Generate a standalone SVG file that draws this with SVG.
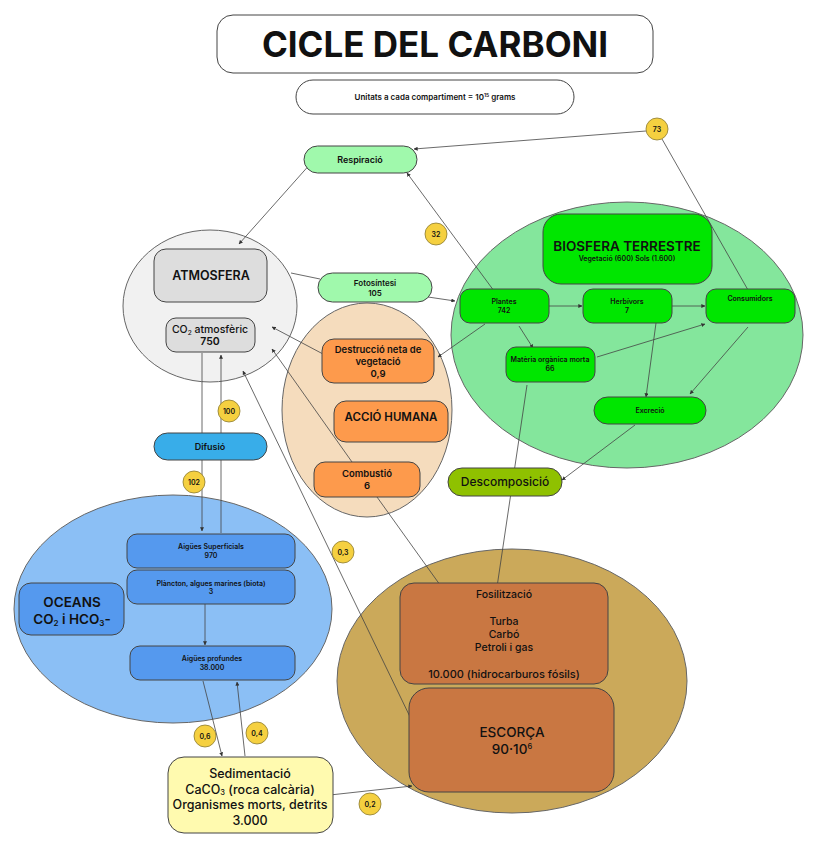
<svg xmlns="http://www.w3.org/2000/svg" width="817" height="848" viewBox="0 0 817 848">
<defs>
<marker id="ah" viewBox="0 0 6 6" refX="5.5" refY="3" markerWidth="4" markerHeight="4" orient="auto" markerUnits="userSpaceOnUse">
<path d="M0,0 L6,3 L0,6 z" fill="#333"/>
</marker>
</defs>
<style>
text{font-family:Inter,"Liberation Sans",Arial,sans-serif;fill:#111;text-anchor:middle;font-weight:500}
.big{stroke:#666;stroke-width:1}
.box{stroke:#444;stroke-width:1}
.ln{stroke:#444;stroke-width:0.8;fill:none}
.arr{stroke:#444;stroke-width:0.8;fill:none;marker-end:url(#ah)}
.num{fill:#f5d040;stroke:#8a7a30;stroke-width:0.8}
.nt{font-size:7px;font-weight:600}
.sm{font-size:7px;font-weight:600}
.s9{font-size:9px;font-weight:600}
.hum{font-size:9.5px;font-weight:600}
</style>

<rect width="817" height="848" fill="#ffffff"/>

<g id="ellipses">
<ellipse id="atm-ellipse" cx="210" cy="306" rx="87" ry="76" fill="#f1f1f1" class="big"/>
<ellipse id="human-ellipse" cx="367" cy="410" rx="85" ry="107" fill="#f5dcbd" class="big"/>
<ellipse id="bio-ellipse" cx="627" cy="335" rx="176" ry="133" fill="#84e69c" class="big"/>
<ellipse id="ocean-ellipse" cx="173" cy="609" rx="159" ry="114" fill="#8bbff5" class="big"/>
<ellipse id="crust-ellipse" cx="512" cy="681" rx="175" ry="132" fill="#cba95a" class="big"/>
</g>

<g id="connectors">
<line class="arr" x1="646" y1="131" x2="414" y2="149"/>
<line class="ln" x1="662" y1="139" x2="748" y2="290"/>
<line class="arr" x1="312" y1="162" x2="239" y2="244"/>
<line class="arr" x1="497" y1="295" x2="407" y2="173"/>
<line class="ln" x1="291" y1="273" x2="320" y2="279"/>
<line class="arr" x1="428" y1="297" x2="455" y2="301"/>
<line class="arr" x1="323" y1="354" x2="272" y2="327"/>
<line class="arr" x1="485" y1="324" x2="438" y2="357"/>
<line class="arr" x1="352" y1="462" x2="272" y2="349"/>
<line class="ln" x1="377" y1="497" x2="463" y2="617"/>
<line class="arr" x1="413" y1="723" x2="243" y2="371"/>
<line class="arr" x1="202" y1="353" x2="202" y2="531"/>
<line class="arr" x1="221" y1="533" x2="221" y2="355"/>
<line class="arr" x1="205" y1="604" x2="205" y2="645"/>
<line class="arr" x1="203" y1="681" x2="222" y2="756"/>
<line class="arr" x1="245" y1="756" x2="237" y2="682"/>
<line class="arr" x1="330" y1="795" x2="412" y2="786"/>
<line class="arr" x1="527" y1="385" x2="497" y2="587"/>
<line class="arr" x1="549" y1="306" x2="582" y2="306"/>
<line class="arr" x1="672" y1="306" x2="705" y2="306"/>
<line class="arr" x1="519" y1="326" x2="533" y2="348"/>
<line class="arr" x1="597" y1="357" x2="705" y2="324"/>
<line class="arr" x1="656" y1="323" x2="646" y2="397"/>
<line class="arr" x1="748" y1="327" x2="690" y2="394"/>
<line class="arr" x1="635" y1="425" x2="562" y2="480"/>
</g>

<g id="title">
<rect x="217" y="15" width="436" height="58" rx="16" fill="#fff" class="box"/>
<text x="435" y="57" style="font-size:35px;font-weight:700">CICLE DEL CARBONI</text>
</g>
<g id="units">
<rect x="296" y="80" width="278" height="34" rx="17" fill="#fff" class="box"/>
<text x="435" y="100" style="font-size:8px;font-weight:600">Unitats a cada compartiment = 10<tspan dy="-3" style="font-size:5px">15</tspan><tspan dy="3"> grams</tspan></text>
</g>

<g id="respiracio">
<rect x="304" y="146" width="113" height="27" rx="13.5" fill="#a0f9ac" class="box"/>
<text x="360" y="163" class="s9">Respiració</text>
</g>

<g id="atmosfera">
<rect x="154" y="249" width="113" height="53" rx="12" fill="#dddddd" class="box"/>
<text x="211" y="280" style="font-size:12.5px;font-weight:600">ATMOSFERA</text>
</g>
<g id="co2-atm">
<rect x="166" y="318" width="89" height="34" rx="10" fill="#dddddd" class="box"/>
<text x="210" y="333" style="font-size:10.5px;font-weight:500">CO<tspan dy="1.5" style="font-size:6.5px">2</tspan><tspan dy="-1.5"> atmosfèric</tspan></text>
<text x="210" y="345" style="font-size:10.5px;font-weight:600">750</text>
</g>

<g id="fotosintesi">
<rect x="318" y="273" width="114" height="29" rx="14.5" fill="#a0f9ac" class="box"/>
<text x="375" y="286" style="font-size:8px;font-weight:600">Fotosíntesi</text>
<text x="375" y="296" style="font-size:8px;font-weight:600">105</text>
</g>

<g id="destruccio">
<rect x="322" y="339" width="112" height="44" rx="12" fill="#fd9a4c" class="box"/>
<text x="378" y="353" class="hum">Destrucció neta de</text>
<text x="378" y="365" class="hum">vegetació</text>
<text x="378" y="377" class="hum">0,9</text>
</g>
<g id="accio-humana">
<rect x="334" y="401" width="114" height="41" rx="12" fill="#fd9a4c" class="box"/>
<text x="391" y="421" style="font-size:11.5px;font-weight:600">ACCIÓ HUMANA</text>
</g>
<g id="combustio">
<rect x="314" y="462" width="106" height="35" rx="11" fill="#fd9a4c" class="box"/>
<text x="367" y="477" class="hum">Combustió</text>
<text x="367" y="489" class="hum">6</text>
</g>

<g id="biosfera">
<rect x="543" y="214" width="169" height="70" rx="18" fill="#00e600" class="box"/>
<text x="627" y="251" style="font-size:13.5px;font-weight:600">BIOSFERA TERRESTRE</text>
<text x="627" y="261" class="sm">Vegetació (600) Sols (1.600)</text>
</g>
<g id="plantes">
<rect x="460" y="289" width="89" height="34" rx="10" fill="#00e600" class="box"/>
<text x="504" y="304" class="sm">Plantes</text>
<text x="504" y="313" class="sm">742</text>
</g>
<g id="herbivors">
<rect x="583" y="289" width="89" height="34" rx="10" fill="#00e600" class="box"/>
<text x="627" y="304" class="sm">Herbívors</text>
<text x="627" y="313" class="sm">7</text>
</g>
<g id="consumidors">
<rect x="706" y="289" width="89" height="34" rx="10" fill="#00e600" class="box"/>
<text x="750" y="301" class="sm">Consumidors</text>
</g>
<g id="materia">
<rect x="506" y="347" width="89" height="35" rx="10" fill="#00e600" class="box"/>
<text x="550" y="362" class="sm">Matèria orgànica morta</text>
<text x="550" y="371" class="sm">66</text>
</g>
<g id="excrecio">
<rect x="594" y="397" width="112" height="27" rx="13.5" fill="#00e600" class="box"/>
<text x="650" y="413" class="sm">Excreció</text>
</g>
<g id="descomposicio">
<rect x="448" y="468" width="114" height="28" rx="14" fill="#8fc100" class="box"/>
<text x="505" y="486" style="font-size:12px;font-weight:500">Descomposició</text>
</g>

<g id="difusio">
<rect x="154" y="433" width="113" height="27" rx="13.5" fill="#38ade9" class="box"/>
<text x="210" y="450" class="s9">Difusió</text>
</g>

<g id="aigues-sup">
<rect x="127" y="534" width="168" height="34" rx="10" fill="#5599ee" class="box"/>
<text x="211" y="549" class="sm">Aigües Superficials</text>
<text x="211" y="558" class="sm">970</text>
</g>
<g id="plancton">
<rect x="127" y="570" width="168" height="34" rx="10" fill="#5599ee" class="box"/>
<text x="211" y="586" class="sm">Plàncton, algues marines (biota)</text>
<text x="211" y="594" class="sm">3</text>
</g>
<g id="aigues-prof">
<rect x="130" y="646" width="165" height="34" rx="10" fill="#5599ee" class="box"/>
<text x="212" y="661" class="sm">Aigües profundes</text>
<text x="212" y="670" class="sm">38.000</text>
</g>
<g id="oceans">
<rect x="19" y="583" width="105" height="52" rx="12" fill="#5599ee" class="box"/>
<text x="72" y="607" style="font-size:13.5px;font-weight:600">OCEANS</text>
<text x="72" y="624" style="font-size:13.5px;font-weight:600">CO<tspan dy="2" style="font-size:8px">2</tspan><tspan dy="-2">  i HCO</tspan><tspan dy="2" style="font-size:8px">3</tspan><tspan dy="-2">-</tspan></text>
</g>

<g id="sedimentacio">
<rect x="168" y="757" width="165" height="76" rx="16" fill="#fffaaf" class="box"/>
<text x="250" y="778" style="font-size:12.5px">Sedimentació</text>
<text x="250" y="793.5" style="font-size:12.5px">CaCO<tspan dy="1.5" style="font-size:7.5px">3</tspan><tspan dy="-1.5">  (roca calcària)</tspan></text>
<text x="250" y="809" style="font-size:12.5px">Organismes morts, detrits</text>
<text x="250" y="824.5" style="font-size:12.5px">3.000</text>
</g>

<g id="fosilitzacio">
<rect x="400" y="583" width="208" height="101" rx="14" fill="#c97742" class="box"/>
<text x="504" y="598" style="font-size:10.5px">Fosilització</text>
<text x="504" y="625" style="font-size:10.5px">Turba</text>
<text x="504" y="638" style="font-size:10.5px">Carbó</text>
<text x="504" y="651" style="font-size:10.5px">Petroli i gas</text>
<text x="504" y="678" style="font-size:11px">10.000 (hidrocarburos fósils)</text>
</g>
<g id="escorca">
<rect x="409" y="688" width="205" height="104" rx="20" fill="#c97742" class="box"/>
<text x="512" y="737" style="font-size:13.5px">ESCORÇA</text>
<text x="512" y="754" style="font-size:13.5px">90·10<tspan dy="-5" style="font-size:7.5px">6</tspan></text>
</g>

<g id="flow-values">
<g id="v73"><circle cx="657" cy="129" r="11" class="num"/><text x="657" y="131.5" class="nt">73</text></g>
<g id="v32"><circle cx="436" cy="234" r="11" class="num"/><text x="436" y="236.5" class="nt">32</text></g>
<g id="v100"><circle cx="229" cy="411" r="11" class="num"/><text x="229" y="413.5" class="nt">100</text></g>
<g id="v102"><circle cx="194" cy="482" r="11" class="num"/><text x="194" y="484.5" class="nt">102</text></g>
<g id="v03"><circle cx="343" cy="552" r="11" class="num"/><text x="343" y="554.5" class="nt">0,3</text></g>
<g id="v06"><circle cx="205" cy="736" r="11" class="num"/><text x="205" y="738.5" class="nt">0,6</text></g>
<g id="v04"><circle cx="257" cy="733" r="11" class="num"/><text x="257" y="735.5" class="nt">0,4</text></g>
<g id="v02"><circle cx="370" cy="804" r="11" class="num"/><text x="370" y="806.5" class="nt">0,2</text></g>
</g>
</svg>
